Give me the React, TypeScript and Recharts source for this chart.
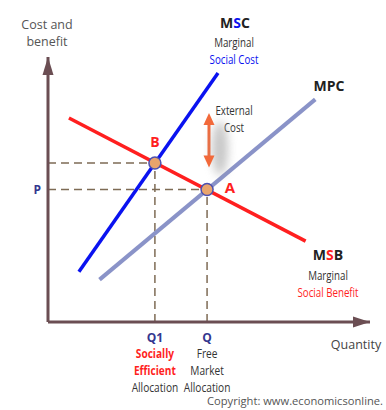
import React from "react";
import {
  LineChart,
  Line,
  XAxis,
  YAxis,
  ReferenceLine,
  ReferenceDot,
  Customized,
} from "recharts";

// curve end points (quantity, cost/benefit) on a 0..100 scale
const msb = [
  { q: 6.5, v: 77 },
  { q: 80, v: 30.5 },
];
const msc = [
  { q: 9.6, v: 19 },
  { q: 52.8, v: 94 },
];
const mpc = [
  { q: 16, v: 16 },
  { q: 83, v: 84 },
];

const Q1 = 33.2; // socially efficient quantity
const Q = 49.4; // free market quantity
const P = 50; // market price
const PB = 60; // price at B

const extCostQ = 50;
const extCost = [58.3, 78.9];

const q1Caption = ["Socially", "Efficient", "Allocation"];
const qCaption = ["Free", "Market", "Allocation"];

const RED = "#ff1f1f";
const BLUE = "#0a12f0";
const MPC_COL = "#8a93c8";
const NAVY = "#34378f";
const AXIS = "#6b4e53";
const DASH = "#7e6b55";
const ORANGE = "#f2693a";
const TXT = "#333";
const SANS = "'Open Sans', 'Noto Sans', sans-serif";

// narrow text: Open Sans squeezed horizontally
function NText(props: {
  x: number;
  y: number;
  fill?: string;
  bold?: boolean;
  size?: number;
  children: React.ReactNode;
}) {
  const { x, y, fill = TXT, bold = false, size = 12.5, children } = props;
  return (
    <g transform={`translate(${x},${y}) scale(0.78,1)`}>
      <text
        x={0}
        y={0}
        textAnchor="middle"
        fontFamily={SANS}
        fontSize={size}
        fontWeight={bold ? "bold" : "normal"}
        fill={fill}
      >
        {children}
      </text>
    </g>
  );
}

function XTick(props: any) {
  const { x, y, payload } = props;
  const isQ1 = payload.value === Q1;
  const caption = isQ1 ? q1Caption : qCaption;
  return (
    <g>
      <text
        x={x}
        y={y + 12}
        textAnchor="middle"
        fontFamily={SANS}
        fontWeight="bold"
        fontSize={12}
        fill={NAVY}
      >
        {isQ1 ? "Q1" : "Q"}
      </text>
      {caption.map((c, i) => (
        <NText
          key={c}
          x={x}
          y={y + 28 + i * 17}
          bold={isQ1 && i < 2}
          fill={isQ1 && i < 2 ? RED : TXT}
          size={13}
        >
          {c}
        </NText>
      ))}
    </g>
  );
}

function YTick(props: any) {
  const { x, y } = props;
  return (
    <text
      x={x + 1}
      y={y + 4}
      textAnchor="end"
      fontFamily={SANS}
      fontWeight="bold"
      fontSize={12}
      fill={NAVY}
    >
      P
    </text>
  );
}

const upArrow = (color: string, w: number, h: number) => (p: any) =>
  (
    <polygon
      points={`${p.cx},${p.cy} ${p.cx - w / 2},${p.cy + h} ${p.cx + w / 2},${p.cy + h}`}
      fill={color}
    />
  );
const downArrow = (color: string, w: number, h: number) => (p: any) =>
  (
    <polygon
      points={`${p.cx},${p.cy} ${p.cx - w / 2},${p.cy - h} ${p.cx + w / 2},${p.cy - h}`}
      fill={color}
    />
  );
const rightArrow = (color: string, w: number, h: number) => (p: any) =>
  (
    <polygon
      points={`${p.cx},${p.cy} ${p.cx - h},${p.cy - w / 2} ${p.cx - h},${p.cy + w / 2}`}
      fill={color}
    />
  );

function Labels() {
  return (
    <g>
      <text x={47} y={29} textAnchor="middle" fontFamily={SANS} fontSize={12.5} fill="#555">
        Cost and
      </text>
      <text x={47} y={46} textAnchor="middle" fontFamily={SANS} fontSize={12.5} fill="#555">
        benefit
      </text>

      <text x={235} y={28} textAnchor="middle" fontFamily={SANS} fontWeight="bold" fontSize={14} fill="#222">
        M<tspan fill={BLUE}>S</tspan>C
      </text>
      <NText x={234} y={47}>Marginal</NText>
      <NText x={234} y={64} fill={BLUE}>Social Cost</NText>

      <text x={329} y={91} textAnchor="middle" fontFamily={SANS} fontWeight="bold" fontSize={14} fill="#222">
        MPC
      </text>

      <NText x={234} y={115}>External</NText>
      <NText x={234} y={132}>Cost</NText>

      <text x={328} y={260} textAnchor="middle" fontFamily={SANS} fontWeight="bold" fontSize={14} fill="#222">
        M<tspan fill={RED}>S</tspan>B
      </text>
      <NText x={328} y={280}>Marginal</NText>
      <NText x={328} y={297} fill={RED}>Social Benefit</NText>

      <text x={155} y={147} textAnchor="middle" fontFamily={SANS} fontWeight="bold" fontSize={14} fill={RED}>
        B
      </text>
      <text x={230} y={193} textAnchor="middle" fontFamily={SANS} fontWeight="bold" fontSize={15} fill={RED}>
        A
      </text>

      <text x={356} y={349} textAnchor="middle" fontFamily={SANS} fontSize={12.5} fill="#444">
        Quantity
      </text>
      <text
        x={207}
        y={405}
        fontFamily={SANS}
        fontSize={11}
        fill="#555"
        textLength={176}
        lengthAdjust="spacingAndGlyphs"
      >
        Copyright: www.economicsonline.
      </text>
    </g>
  );
}

export default function App() {
  return (
    <div style={{ position: "absolute", left: 0, top: 0, background: "#fff" }}>
      <LineChart
        width={386}
        height={410}
        margin={{ top: 57, right: 16, bottom: 0, left: 0 }}
      >
        <XAxis
          type="number"
          dataKey="q"
          domain={[0, 100]}
          ticks={[Q1, Q]}
          tick={<XTick />}
          tickLine={false}
          axisLine={{ stroke: AXIS, strokeWidth: 3 }}
          height={88}
          allowDuplicatedCategory={false}
        />
        <YAxis
          type="number"
          dataKey="v"
          domain={[0, 100]}
          ticks={[P]}
          tick={<YTick />}
          tickLine={false}
          axisLine={{ stroke: AXIS, strokeWidth: 3 }}
          width={48}
        />

        <ReferenceDot x={100} y={0} r={0} shape={rightArrow(AXIS, 11, 17)} ifOverflow="visible" />
        <ReferenceDot x={0} y={100} r={0} shape={upArrow(AXIS, 11, 18)} ifOverflow="visible" />

        <ReferenceLine segment={[{ x: 0, y: PB }, { x: Q1, y: PB }]} stroke={DASH} strokeWidth={1.5} strokeDasharray="8 5" />
        <ReferenceLine segment={[{ x: Q1, y: 0 }, { x: Q1, y: PB }]} stroke={DASH} strokeWidth={1.5} strokeDasharray="8 5" />
        <ReferenceLine segment={[{ x: 0, y: P }, { x: Q, y: P }]} stroke={DASH} strokeWidth={1.5} strokeDasharray="8 5" />
        <ReferenceLine segment={[{ x: Q, y: 0 }, { x: Q, y: P }]} stroke={DASH} strokeWidth={1.5} strokeDasharray="8 5" />

        <ReferenceDot
          x={extCostQ + 3.4}
          y={65.5}
          r={0}
          ifOverflow="visible"
          shape={(p: any) => (
            <ellipse cx={p.cx} cy={p.cy} rx={8} ry={27} fill="#9a9a9a" opacity={0.55} style={{ filter: "blur(5px)" }} />
          )}
        />
        <ReferenceLine
          segment={[{ x: extCostQ, y: extCost[0] + 4 }, { x: extCostQ, y: extCost[1] - 4 }]}
          stroke={ORANGE}
          strokeWidth={3}
        />
        <ReferenceDot x={extCostQ} y={extCost[1]} r={0} shape={upArrow(ORANGE, 11, 12)} ifOverflow="visible" />
        <ReferenceDot x={extCostQ} y={extCost[0]} r={0} shape={downArrow(ORANGE, 11, 12)} ifOverflow="visible" />

        <Line data={mpc} dataKey="v" stroke={MPC_COL} strokeWidth={4} dot={false} activeDot={false} isAnimationActive={false} />
        <Line data={msc} dataKey="v" stroke={BLUE} strokeWidth={3.5} dot={false} activeDot={false} isAnimationActive={false} />
        <Line data={msb} dataKey="v" stroke={RED} strokeWidth={3.5} dot={false} activeDot={false} isAnimationActive={false} />

        <ReferenceDot x={Q1} y={PB} r={6} fill="#e9a46c" stroke="#4b4fb0" strokeWidth={1.5} />
        <ReferenceDot x={Q} y={P} r={6} fill="#e9a46c" stroke="#4b4fb0" strokeWidth={1.5} />

        <Customized component={<Labels />} />
      </LineChart>
    </div>
  );
}
